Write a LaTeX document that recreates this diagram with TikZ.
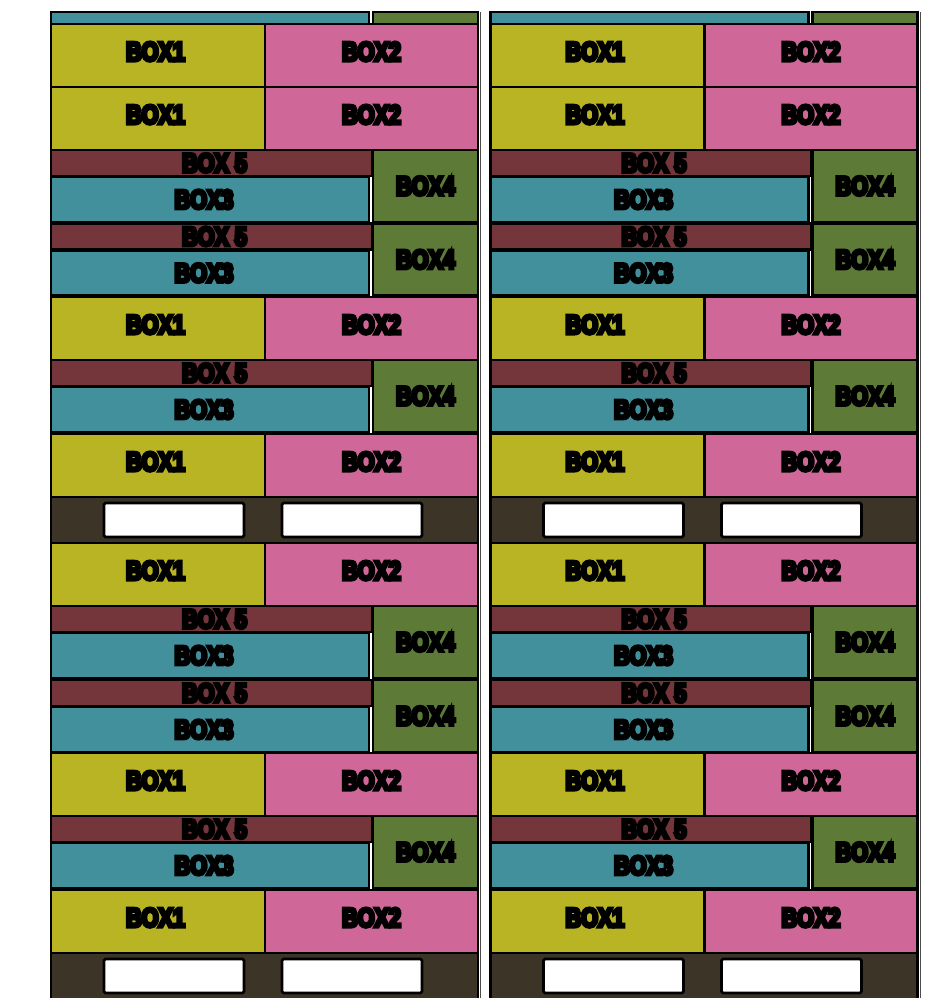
\documentclass[tikz,border=0pt]{standalone}
\usepackage{fontspec}
\newfontfamily\boxfont[FakeStretch=0.8,FakeBold=12]{Liberation Sans}
\definecolor{cb1}{HTML}{B9B424}
\definecolor{cb2}{HTML}{CF6898}
\definecolor{cb3}{HTML}{41909B}
\definecolor{cb4}{HTML}{5D7A36}
\definecolor{cb5}{HTML}{74363A}
\definecolor{pal}{HTML}{3D3428}
\tikzset{
  bx/.style={draw=black, line width=2.6pt, rectangle, inner sep=0pt, outer sep=0pt,
    font=\boxfont\bfseries\fontsize{27}{27}\selectfont, text=black},
  pallet/.style={draw=black, line width=2.6pt, rectangle, inner sep=0pt, outer sep=0pt, fill=pal},
  slot/.style={draw=black, line width=2.6pt, rectangle, rounded corners=1.5pt, fill=white,
    inner sep=0pt, outer sep=0pt, minimum width=140, minimum height=34},
}
\newcommand\boxrow[3]{%
  \node[bx, fill=cb1, minimum width=214, minimum height=63] (#3-1) at (#1+158,#2+31.5) {\hspace*{-5pt}\raisebox{8pt}{BOX1}};
  \node[bx, fill=cb2, minimum width=213, minimum height=63] (#3-2) at (#1+371.5,#2+31.5) {\raisebox{8pt}{BOX2}};
}
\newcommand\boxgrp[3]{%
  \node[bx, fill=cb5, minimum width=321, minimum height=26] (#3-5) at (#1+211.5,#2+13) {\hspace*{6pt}BOX 5};
  \node[bx, fill=cb3, minimum width=318, minimum height=45] (#3-3) at (#1+210,#2+49.5) {\hspace*{-12pt}\raisebox{-1.5pt}{BOX3}};
  \node[bx, fill=cb4, minimum width=105, minimum height=72] (#3-4) at (#1+425.5,#2+36) {\raisebox{-1pt}{BOX4}};
}
\newcommand\palletrow[3]{%
  \node[pallet, minimum width=427, minimum height=46] (#3-p) at (#1+264.5,#2+23) {};
  \node[slot] (#3-s1) at (#1+174,#2+23) {};
  \node[slot] (#3-s2) at (#1+352,#2+23) {};
}
\newcommand\fullstack[2]{%
  \node[bx, fill=cb3, minimum width=318, minimum height=12] (#2-t3) at (#1+210,18) {};
  \node[bx, fill=cb4, minimum width=105, minimum height=12] (#2-t4) at (#1+425.5,18) {};
  \boxrow{#1}{24}{#2-r1}
  \boxrow{#1}{87}{#2-r2}
  \boxgrp{#1}{150}{#2-g1}
  \boxgrp{#1}{223.5}{#2-g2}
  \boxrow{#1}{297}{#2-r3}
  \boxgrp{#1}{360}{#2-g3}
  \boxrow{#1}{434}{#2-r4}
  \palletrow{#1}{497}{#2-p1}
  \boxrow{#1}{543}{#2-r5}
  \boxgrp{#1}{606}{#2-g4}
  \boxgrp{#1}{680}{#2-g5}
  \boxrow{#1}{753}{#2-r6}
  \boxgrp{#1}{816}{#2-g6}
  \boxrow{#1}{890}{#2-r7}
  \palletrow{#1}{953}{#2-p2}
  \coordinate (#2-e1) at (#1+480.5,12);
  \coordinate (#2-e2) at (#1+480.5,998);
  \draw[line width=1pt, black!70] (#2-e1) -- (#2-e2);
}
\begin{document}
\begin{tikzpicture}[x=1pt,y=-1pt]
\clip (0,0) rectangle (947,998);
\fill[white] (0,0) rectangle (947,998);
\fullstack{0}{L}
\fullstack{439.5}{R}
\end{tikzpicture}
\end{document}
